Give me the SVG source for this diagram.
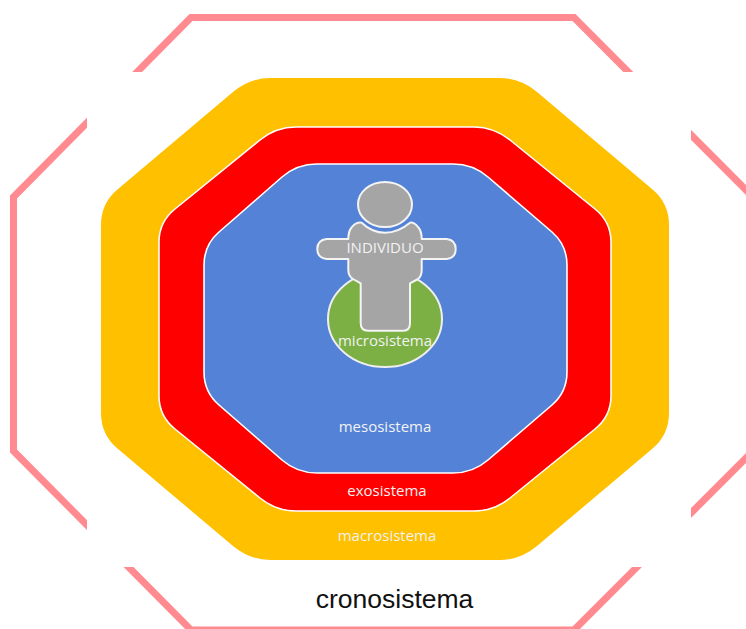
<svg xmlns="http://www.w3.org/2000/svg" width="746" height="629" viewBox="0 0 746 629">
<style>
.lbl{font-family:"Open Sans","Noto Sans",sans-serif;font-size:15px;fill:#f2f2f2;text-anchor:middle}
.w{stroke:#fff;stroke-width:1.6}
.g{fill:#a5a5a5;stroke:#f4f4f4;stroke-width:2;stroke-linejoin:round}
</style>
<rect width="746" height="629" fill="#fff"/>
<g id="cronosistema">
<polygon points="191,17.500 574,17.500 753,197 753,451 574,630 191,630 13.500,451 13.500,197" fill="none" stroke="#ff8a90" stroke-width="7" stroke-linejoin="miter"/>
<rect x="87" y="72" width="604" height="495" fill="#fff"/>
<text x="394.500" y="608" font-family="'Liberation Sans',Arial,sans-serif" font-size="26.500" fill="#111" text-anchor="middle">cronosistema</text>
</g>
<g id="macrosistema">
<path d="M270,78H500Q520,78 537,92L652,189Q669,203 669,225V413Q669,435 652,449L537,546Q520,560 500,560H270Q250,560 233,546L118,449Q101,435 101,413V225Q101,203 118,189L233,92Q250,78 270,78Z" fill="#ffc000"/>
<text class="lbl" x="387" y="541">macrosistema</text>
</g>
<g id="exosistema">
<path d="M296,127H474Q494,127 510,140L595,209Q611,222 611,242V396Q611,416 595,429L510,498Q494,511 474,511H296Q276,511 260,498L175,429Q159,416 159,396V242Q159,222 175,209L260,140Q276,127 296,127Z" fill="#ff0000" class="w"/>
<text class="lbl" x="387" y="496">exosistema</text>
</g>
<g id="mesosistema">
<path d="M317,164H453Q473,164 488,177L552,232Q567,245 567,265V372Q567,392 552,405L488,460Q473,473 453,473H317Q297,473 282,460L219,405Q204,392 204,372V265Q204,245 219,232L282,177Q297,164 317,164Z" fill="#5482d6" class="w"/>
<text class="lbl" x="385" y="432">mesosistema</text>
</g>
<g id="microsistema">
<ellipse cx="385" cy="319" rx="57" ry="48" fill="#7cb045" stroke="#eeeeee" stroke-width="2"/>
</g>
<g id="individuo">
<ellipse cx="385" cy="204.500" rx="27" ry="22.500" class="g"/>
<path class="g" d="M361.700,222.700Q372,232.700 385,232.700Q398,232.700 410,222.700Q414,222 418,227Q421.700,231 421.700,239H446.700Q455.700,240 455.700,249Q455.700,258 446.700,259H421.700V270Q421.700,276 418,279L410,283.300V323.300Q410,330.700 403.300,330.700H368.300Q360.700,330.700 360.700,323.300V283.300L353,279Q348.300,276 348.300,270V259H326.700Q317.300,258 317.300,249Q317.300,240 326.700,239H348.300Q348.300,231 352,227Q356,222 361.700,222.700Z"/>
<text class="lbl" x="385" y="253">INDIVIDUO</text>
</g>
<text class="lbl" x="385" y="346">microsistema</text>
</svg>
